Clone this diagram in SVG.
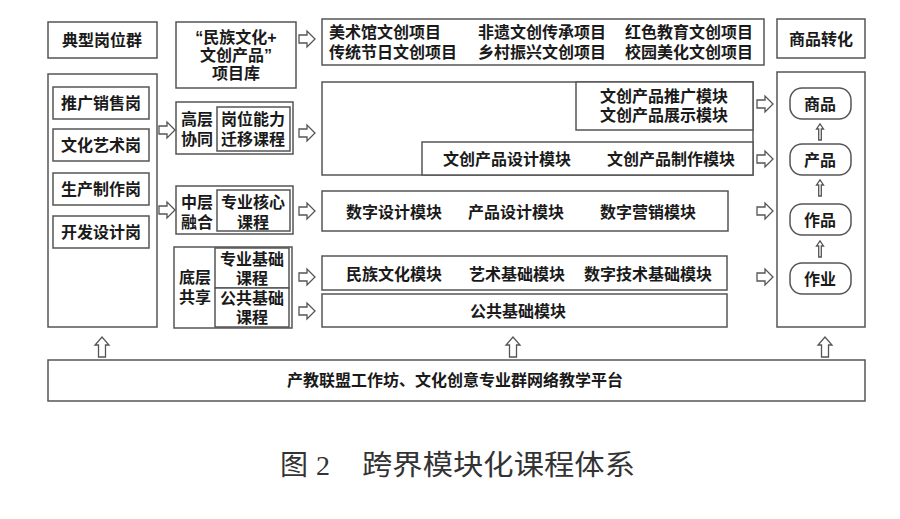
<svg xmlns="http://www.w3.org/2000/svg" width="900" height="519" viewBox="0 0 900 519">
<defs>
<style>
.b{fill:#fff;stroke:#555;stroke-width:1.5}
.t{font-family:"Liberation Sans","Noto Sans CJK SC",sans-serif;font-size:16px;font-weight:bold;fill:#1a1a1a;dominant-baseline:central}
.m{text-anchor:middle}
.a{fill:#fff;stroke:#555;stroke-width:1.3}
.cap{font-family:"Liberation Serif","Noto Sans CJK SC",serif;font-size:28px;fill:#333;dominant-baseline:central}
</style>
<path id="ar" class="a" d="M0,-4 H8 V-8 L16,0 L8,8 V4 H0 Z"/>
<path id="au" class="a" d="M-3.5,20 V8 H-7 L0,0 L7,8 H3.5 V20 Z"/>
<path id="as" class="a" d="M-1.3,16 V5 H-3.5 L0,0 L3.5,5 H1.3 V16 Z"/>
</defs>
<rect width="900" height="519" fill="#fff"/>

<g id="header-jobs"><rect class="b" x="48" y="22" width="109" height="36"/><text class="t m" x="102" y="40">典型岗位群</text></g>
<g id="jobs">
<rect class="b" x="48" y="74" width="109" height="253"/>
<g id="job1"><rect class="b" x="53" y="87" width="96" height="32"/><text class="t m" x="101" y="103">推广销售岗</text></g>
<g id="job2"><rect class="b" x="53" y="129" width="96" height="32"/><text class="t m" x="101" y="145">文化艺术岗</text></g>
<g id="job3"><rect class="b" x="53" y="173" width="96" height="32"/><text class="t m" x="101" y="189">生产制作岗</text></g>
<g id="job4"><rect class="b" x="53" y="216" width="96" height="32"/><text class="t m" x="101" y="232">开发设计岗</text></g>
</g>

<g id="library"><rect class="b" x="176" y="22" width="120" height="66"/>
<text class="t m" x="236" y="37">“民族文化+</text><text class="t m" x="236" y="55">文创产品”</text><text class="t m" x="236" y="73">项目库</text></g>

<g id="high"><rect class="b" x="176" y="102" width="117" height="52"/><rect class="b" x="217" y="107" width="73" height="44"/>
<text class="t m" x="197" y="119">高层</text><text class="t m" x="197" y="139">协同</text>
<text class="t m" x="253" y="119">岗位能力</text><text class="t m" x="253" y="139">迁移课程</text></g>

<g id="mid"><rect class="b" x="176" y="186" width="117" height="48"/><rect class="b" x="217" y="190" width="73" height="41"/>
<text class="t m" x="197" y="202">中层</text><text class="t m" x="197" y="222">融合</text>
<text class="t m" x="253" y="202">专业核心</text><text class="t m" x="253" y="222">课程</text></g>

<g id="low"><rect class="b" x="174" y="247" width="118" height="81"/><rect class="b" x="215" y="248" width="74" height="40"/><rect class="b" x="215" y="288" width="74" height="39"/>
<text class="t m" x="195" y="277">底层</text><text class="t m" x="195" y="297">共享</text>
<text class="t m" x="252" y="259">专业基础</text><text class="t m" x="252" y="278">课程</text>
<text class="t m" x="252" y="298">公共基础</text><text class="t m" x="252" y="317">课程</text></g>

<g id="projects"><rect class="b" x="322" y="19" width="442" height="46"/>
<text class="t" x="329" y="32">美术馆文创项目</text><text class="t" x="478" y="32">非遗文创传承项目</text><text class="t" x="625" y="32">红色教育文创项目</text>
<text class="t" x="329" y="52">传统节日文创项目</text><text class="t" x="478" y="52">乡村振兴文创项目</text><text class="t" x="625" y="52">校园美化文创项目</text></g>

<g id="high-modules"><rect class="b" x="322" y="82" width="431" height="93"/>
<rect class="b" x="576" y="82" width="177" height="48"/>
<text class="t m" x="664" y="96">文创产品推广模块</text><text class="t m" x="664" y="115">文创产品展示模块</text>
<rect class="b" x="422" y="142" width="331" height="33"/>
<text class="t" x="443" y="159">文创产品设计模块</text><text class="t" x="607" y="159">文创产品制作模块</text></g>

<g id="mid-modules"><rect class="b" x="322" y="191" width="406" height="40"/>
<text class="t" x="346" y="212">数字设计模块</text><text class="t" x="468" y="212">产品设计模块</text><text class="t" x="600" y="212">数字营销模块</text></g>

<g id="low-modules"><rect class="b" x="322" y="256" width="405" height="34"/>
<text class="t" x="346" y="274">民族文化模块</text><text class="t" x="469" y="274">艺术基础模块</text><text class="t" x="584" y="274">数字技术基础模块</text></g>
<g id="public-module"><rect class="b" x="322" y="294" width="405" height="33"/><text class="t m" x="518" y="311">公共基础模块</text></g>

<g id="header-goods"><rect class="b" x="777" y="19" width="88" height="39"/><text class="t m" x="821" y="39">商品转化</text></g>
<g id="goods"><rect class="b" x="777" y="72" width="88" height="255"/>
<g id="g1"><rect class="b" x="790" y="88" width="61" height="31" rx="12"/><text class="t m" x="820" y="104">商品</text></g>
<g id="g2"><rect class="b" x="790" y="144" width="61" height="31" rx="12"/><text class="t m" x="820" y="160">产品</text></g>
<g id="g3"><rect class="b" x="790" y="204" width="61" height="31" rx="12"/><text class="t m" x="820" y="220">作品</text></g>
<g id="g4"><rect class="b" x="790" y="263" width="61" height="31" rx="12"/><text class="t m" x="820" y="279">作业</text></g>
</g>

<g id="platform"><rect class="b" x="48" y="360" width="817" height="41"/><text class="t m" x="455" y="380">产教联盟工作坊、文化创意专业群网络教学平台</text></g>

<g id="connectors">
<use href="#ar" x="159" y="130"/><use href="#ar" x="159" y="210"/>
<use href="#ar" x="299" y="39"/><use href="#ar" x="299" y="133"/><use href="#ar" x="299" y="211"/><use href="#ar" x="299" y="277"/><use href="#ar" x="299" y="311"/>
<use href="#ar" x="757" y="104"/><use href="#ar" x="757" y="159"/><use href="#ar" x="757" y="211"/><use href="#ar" x="757" y="277"/>
<use href="#au" x="102" y="337"/><use href="#au" x="513" y="337"/><use href="#au" x="825" y="337"/>
<use href="#as" x="820" y="124"/><use href="#as" x="820" y="180"/><use href="#as" x="820" y="241"/>
</g>

<text class="cap" x="280" y="465">图</text><text class="cap" x="316" y="465">2</text>
<text class="cap" x="362" y="465" textLength="273" lengthAdjust="spacingAndGlyphs">跨界模块化课程体系</text>
</svg>
